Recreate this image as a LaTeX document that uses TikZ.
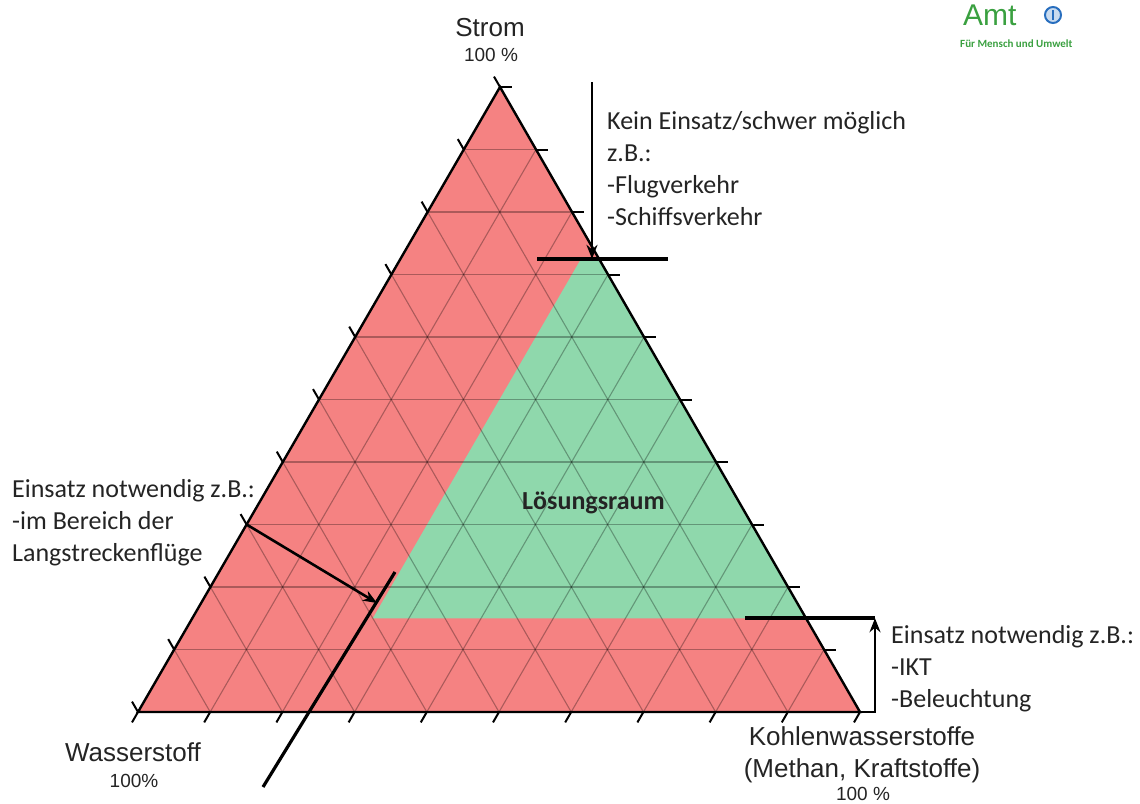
\documentclass[tikz,border=0pt]{standalone}
\usepackage{fontspec}
\setmainfont{Carlito}
\newfontfamily\arialFont{Liberation Sans}
\usetikzlibrary{arrows.meta}
\newcommand{\gridOpacity}[0]{0.3}
\newcommand{\tickLen}[0]{12}
\newcommand{\bigText}[0]{\fontsize{26}{32}\selectfont}
\newcommand{\smallText}[0]{\fontsize{19}{22}\selectfont}
\definecolor{solRed}{RGB}{245,130,130}
\definecolor{solGreen}{RGB}{143,216,172}
\definecolor{textGray}{RGB}{36,36,36}
\definecolor{umweltGreen}{RGB}{58,160,64}
\definecolor{umweltBlue}{RGB}{40,110,190}

\begin{document}
\begin{tikzpicture}[x=1pt, y=-1pt]
  \tikzset{
    note/.style={font=\bigText, text=textGray, inner sep=0pt, anchor=base west, align=left},
    axis name/.style={font=\arialFont\bigText, text=textGray, inner sep=0pt, anchor=base},
    axis pct/.style={font=\arialFont\smallText, text=textGray, inner sep=0pt, anchor=base},
    grid line/.style={black, opacity=\gridOpacity, line width=1.1pt},
    tick/.style={black, line width=2pt},
    bar/.style={black, line width=3.6pt},
    pointer/.style={black, line width=2.6pt, -{Stealth[length=14pt,width=11pt]}}
  }
  \useasboundingbox (0,0) rectangle (1140,803);
  \coordinate (S) at (500,87);
  \coordinate (H) at (138,712);
  \coordinate (K) at (860,712);
  \fill[solRed] (S) -- (H) -- (K) -- cycle;
  \coordinate (G-1) at (barycentric cs:S=0.15,H=0.6,K=0.25);
  \coordinate (G-2) at (barycentric cs:S=0.15,H=0,K=0.85);
  \coordinate (G-3) at (barycentric cs:S=0.725,H=0,K=0.275);
  \coordinate (G-4) at (barycentric cs:S=0.725,H=0.025,K=0.25);
  \fill[solGreen] (G-1) -- (G-2) -- (G-3) -- (G-4) -- cycle;
  \foreach \k in {1,...,9} {
    \pgfmathsetmacro{\kA}{\k/10}
    \pgfmathsetmacro{\kB}{1-\k/10}
    \draw[grid line] (barycentric cs:S=\kA,H=\kB,K=0) -- (barycentric cs:S=\kA,H=0,K=\kB);
    \draw[grid line] (barycentric cs:H=\kA,S=\kB,K=0) -- (barycentric cs:H=\kA,S=0,K=\kB);
    \draw[grid line] (barycentric cs:K=\kA,S=\kB,H=0) -- (barycentric cs:K=\kA,S=0,H=\kB);
  }
  \draw[black, line width=2.4pt] (S) -- (H) -- (K) -- cycle;
  \foreach \k in {0,...,10} {
    \pgfmathsetmacro{\kA}{\k/10}
    \pgfmathsetmacro{\kB}{1-\k/10}
    \draw[tick] (barycentric cs:S=\kA,H=0,K=\kB) -- ++(\tickLen,0);
    \draw[tick] (barycentric cs:S=\kA,H=\kB,K=0) -- ++(-6,-10.4);
    \draw[tick] (barycentric cs:S=0,H=\kB,K=\kA) -- ++(-6,10.4);
  }
  \node[axis name] (strom) at (490,36) {Strom};
  \node[axis pct] (strom-pct) at (491,61) {100 \%};
  \node[axis name] (wasser) at (133,761) {Wasserstoff};
  \node[axis pct] (wasser-pct) at (134,787) {100\%};
  \node[axis name] (kohlen) at (862,745) {Kohlenwasserstoffe};
  \node[axis name] (kohlen-2) at (862,777) {(Methan, Kraftstoffe)};
  \node[axis pct] (kohlen-pct) at (863,800) {100 \%};
  \node[note, font=\bfseries\bigText] (loesung) at (522,509) {Lösungsraum};
  \node[note] (kein) at (607,225) {Kein Einsatz/schwer möglich\\z.B.:\\-Flugverkehr\\-Schiffsverkehr};
  \node[note] (lang) at (12,561) {Einsatz notwendig z.B.:\\-im Bereich der\\Langstreckenflüge};
  \node[note] (ikt) at (891,707) {Einsatz notwendig z.B.:\\-IKT\\-Beleuchtung};
  \coordinate (kein-start) at (592,82);
  \draw[pointer] (kein-start) -- (kein-start |- G-3);
  \draw[bar] ([xshift=-62pt]G-3) -- ([xshift=69pt]G-3);
  \draw[bar] ([xshift=-61pt]G-2) -- ([xshift=69pt]G-2);
  \coordinate (ikt-corner) at ([xshift=15pt]K);
  \draw[pointer] (K) -- (ikt-corner) -- (ikt-corner |- G-2);
  \coordinate (L-3) at (barycentric cs:S=0.3,H=0.7,K=0);
  \coordinate (lang-end) at (377,603);
  \draw[pointer] (L-3) -- (lang-end);
  \coordinate (cut-top) at (395,572);
  \coordinate (cut-bottom) at (263,787);
  \draw[black, line width=3.2pt] (cut-top) -- (cut-bottom);
  \node[font=\arialFont\fontsize{30}{30}\selectfont, text=umweltGreen, inner sep=0pt, anchor=base west] (amt) at (963,25) {Amt};
  \node[font=\bfseries\fontsize{11}{12}\selectfont, text=umweltGreen, inner sep=0pt, anchor=base west] (amt-sub) at (960,47) {Für Mensch und Umwelt};
  \coordinate (emblem) at (1053,15);
  \fill[umweltBlue!25] (emblem) circle (7);
  \draw[umweltBlue, line width=2pt] (emblem) circle (8);
  \draw[umweltBlue, line width=1.2pt] ([yshift=-5pt]emblem) -- ([yshift=5pt]emblem);
\end{tikzpicture}
\end{document}
